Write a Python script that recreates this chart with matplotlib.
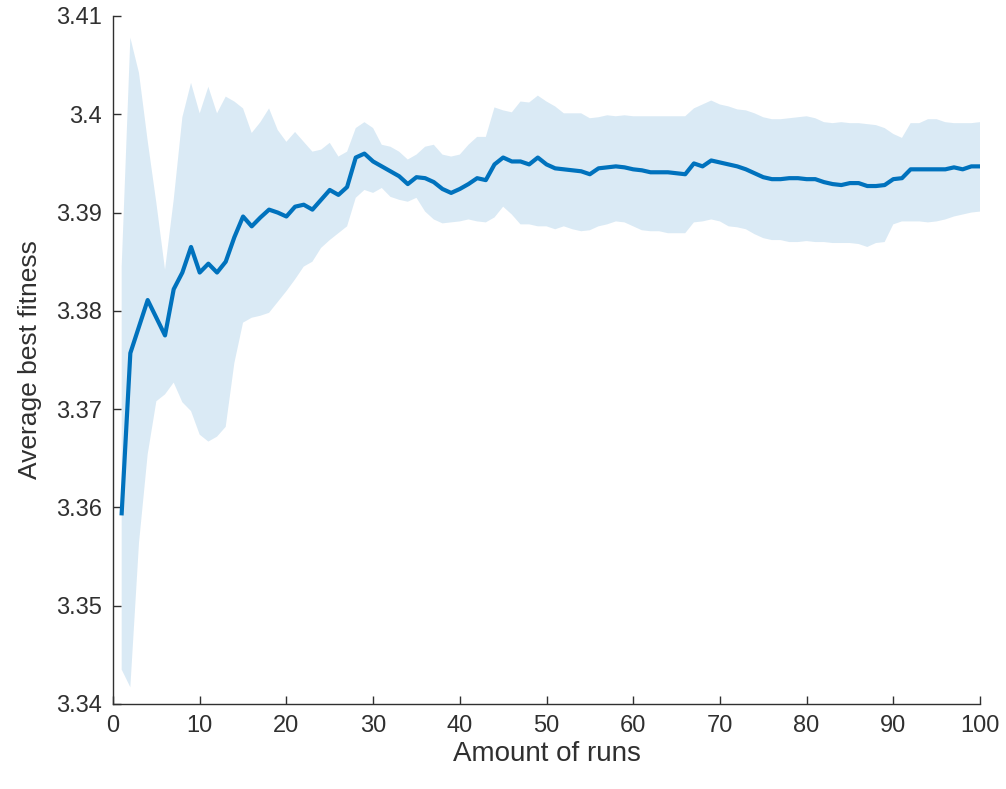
import matplotlib
matplotlib.use("Agg")
import matplotlib.pyplot as plt
import numpy as np

plt.rcParams['font.family'] = ['Liberation Sans', 'DejaVu Sans']

runs = list(range(1, 101))

mean_fitness = [
    3.3594, 3.3757, 3.3784, 3.3811, 3.3793, 3.3775, 3.3822, 3.3839, 3.3865, 3.3839,
    3.3848, 3.3839, 3.3850, 3.3875, 3.3896, 3.3886, 3.3895, 3.3903, 3.3900, 3.3896,
    3.3906, 3.3908, 3.3903, 3.3913, 3.3923, 3.3918, 3.3926, 3.3956, 3.3960, 3.3952,
    3.3947, 3.3942, 3.3937, 3.3929, 3.3936, 3.3935, 3.3931, 3.3924, 3.3920, 3.3924,
    3.3929, 3.3935, 3.3933, 3.3949, 3.3956, 3.3952, 3.3952, 3.3949, 3.3956, 3.3949,
    3.3945, 3.3944, 3.3943, 3.3942, 3.3939, 3.3945, 3.3946, 3.3947, 3.3946, 3.3944,
    3.3943, 3.3941, 3.3941, 3.3941, 3.3940, 3.3939, 3.3950, 3.3947, 3.3953, 3.3951,
    3.3949, 3.3947, 3.3944, 3.3940, 3.3936, 3.3934, 3.3934, 3.3935, 3.3935, 3.3934,
    3.3934, 3.3931, 3.3929, 3.3928, 3.3930, 3.3930, 3.3927, 3.3927, 3.3928, 3.3934,
    3.3935, 3.3944, 3.3944, 3.3944, 3.3944, 3.3944, 3.3946, 3.3944, 3.3947, 3.3947,
]

upper_band = [
    3.3845, 3.4078, 3.4042, 3.3973, 3.3910, 3.3842, 3.3913, 3.3997, 3.4032, 3.4001,
    3.4028, 3.4001, 3.4018, 3.4013, 3.4006, 3.3981, 3.3992, 3.4006, 3.3984, 3.3972,
    3.3982, 3.3972, 3.3962, 3.3964, 3.3971, 3.3957, 3.3962, 3.3986, 3.3992, 3.3986,
    3.3969, 3.3967, 3.3962, 3.3954, 3.3959, 3.3967, 3.3969, 3.3959, 3.3957, 3.3959,
    3.3969, 3.3977, 3.3977, 3.4007, 3.4004, 3.4002, 3.4013, 3.4012, 3.4019, 3.4013,
    3.4008, 3.4001, 3.4001, 3.4001, 3.3996, 3.3997, 3.3999, 3.3998, 3.3999, 3.3998,
    3.3998, 3.3998, 3.3998, 3.3998, 3.3998, 3.3998, 3.4006, 3.4010, 3.4014, 3.4010,
    3.4008, 3.4005, 3.4004, 3.4001, 3.3997, 3.3995, 3.3995, 3.3996, 3.3997, 3.3998,
    3.3996, 3.3992, 3.3991, 3.3992, 3.3991, 3.3991, 3.3990, 3.3989, 3.3986, 3.3980,
    3.3976, 3.3991, 3.3991, 3.3995, 3.3995, 3.3992, 3.3991, 3.3991, 3.3991, 3.3992,
]

lower_band = [
    3.3435, 3.3417, 3.3564, 3.3654, 3.3708, 3.3715, 3.3727, 3.3707, 3.3698, 3.3674,
    3.3667, 3.3672, 3.3682, 3.3747, 3.3788, 3.3793, 3.3795, 3.3798, 3.3809, 3.3820,
    3.3832, 3.3845, 3.3850, 3.3864, 3.3872, 3.3879, 3.3886, 3.3915, 3.3923, 3.3920,
    3.3925, 3.3916, 3.3913, 3.3911, 3.3915, 3.3901, 3.3893, 3.3889, 3.3890, 3.3891,
    3.3893, 3.3891, 3.3890, 3.3895, 3.3906, 3.3898, 3.3888, 3.3888, 3.3886, 3.3886,
    3.3883, 3.3886, 3.3883, 3.3881, 3.3882, 3.3886, 3.3888, 3.3891, 3.3890, 3.3886,
    3.3882, 3.3881, 3.3881, 3.3879, 3.3879, 3.3879, 3.3890, 3.3891, 3.3893, 3.3891,
    3.3886, 3.3885, 3.3883, 3.3878, 3.3874, 3.3872, 3.3872, 3.3870, 3.3870, 3.3871,
    3.3870, 3.3870, 3.3869, 3.3869, 3.3869, 3.3868, 3.3865, 3.3869, 3.3870, 3.3888,
    3.3891, 3.3891, 3.3891, 3.3890, 3.3891, 3.3893, 3.3896, 3.3898, 3.3900, 3.3901,
]

x_ticks = [0, 10, 20, 30, 40, 50, 60, 70, 80, 90, 100]
y_ticks = [3.34, 3.35, 3.36, 3.37, 3.38, 3.39, 3.40, 3.41]
y_tick_labels = ['3.34', '3.35', '3.36', '3.37', '3.38', '3.39', '3.4', '3.41']

line_color = '#0072BD'
text_color = '#303030'

fig = plt.figure(figsize=(10.06, 7.89), dpi=100)
ax = fig.add_axes([113 / 1006, 1 - 704 / 789, (980 - 113) / 1006, (704 - 16) / 789])

ax.fill_between(runs, lower_band, upper_band, facecolor=line_color, alpha=0.145,
                edgecolor='none', linewidth=0)
ax.plot(runs, mean_fitness, color=line_color, linewidth=3.0)

ax.set_xlim(0, 100)
ax.set_ylim(3.34, 3.41)
ax.set_xticks(x_ticks)
ax.set_xticklabels([str(v) for v in x_ticks])
ax.set_yticks(y_ticks)
ax.set_yticklabels(y_tick_labels)

for s in ['top', 'right']:
    ax.spines[s].set_visible(False)
for s in ['left', 'bottom']:
    ax.spines[s].set_color(text_color)
    ax.spines[s].set_linewidth(1.0)

ax.tick_params(direction='in', length=6, width=1.0, colors=text_color,
               labelsize=17, labelcolor=text_color, pad=8)

ax.set_xlabel('Amount of runs', fontsize=20, color=text_color, labelpad=3)
ax.set_ylabel('Average best fitness', fontsize=19, color=text_color, labelpad=10)

fig.savefig('out.png', dpi=100)
